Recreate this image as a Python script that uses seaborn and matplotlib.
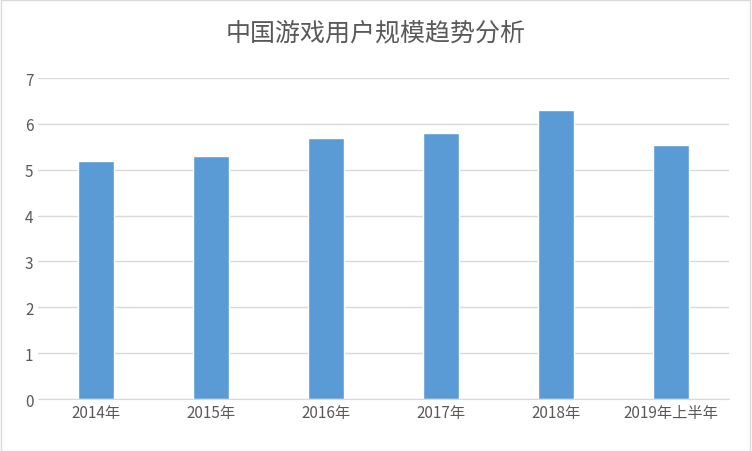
import matplotlib
matplotlib.use("Agg")
import matplotlib.pyplot as plt
import seaborn as sns
import pandas as pd

years = ["2014年", "2015年", "2016年", "2017年", "2018年", "2019年上半年"]
users = [5.2, 5.3, 5.7, 5.8, 6.3, 5.55]

sns.set_style("white")
plt.rcParams['font.family'] = ['Noto Sans CJK SC', 'DejaVu Sans']

df = pd.DataFrame({"year": years, "users": users})

fig = plt.figure(figsize=(7.52, 4.52), dpi=100)
ax = fig.add_axes([0.051, 0.115, 0.918, 0.71])
sns.barplot(data=df, x="year", y="users", color="#5b9bd5", width=0.31, saturation=1, ax=ax)

ax.set_ylim(0, 7)
ax.set_yticks(range(0, 8))
ax.yaxis.grid(True, color="#d9d9d9", linewidth=1)
ax.set_axisbelow(True)
for s in ["top", "right", "left"]:
    ax.spines[s].set_visible(False)
ax.spines["bottom"].set_color("#d9d9d9")
ax.tick_params(axis="both", length=0, labelsize=11, colors="#595959")
ax.set_xlabel("")
ax.set_ylabel("")
ax.set_xlim(-0.5, 5.5)

fig.text(0.5, 0.925, "中国游戏用户规模趋势分析", ha="center", va="center", fontsize=18, color="#595959")
fig.patches.append(plt.Rectangle((0.001, 0.001), 0.997, 0.997, transform=fig.transFigure,
                                 fill=False, edgecolor="#d9d9d9", linewidth=1))
fig.savefig("out.png", dpi=100)
